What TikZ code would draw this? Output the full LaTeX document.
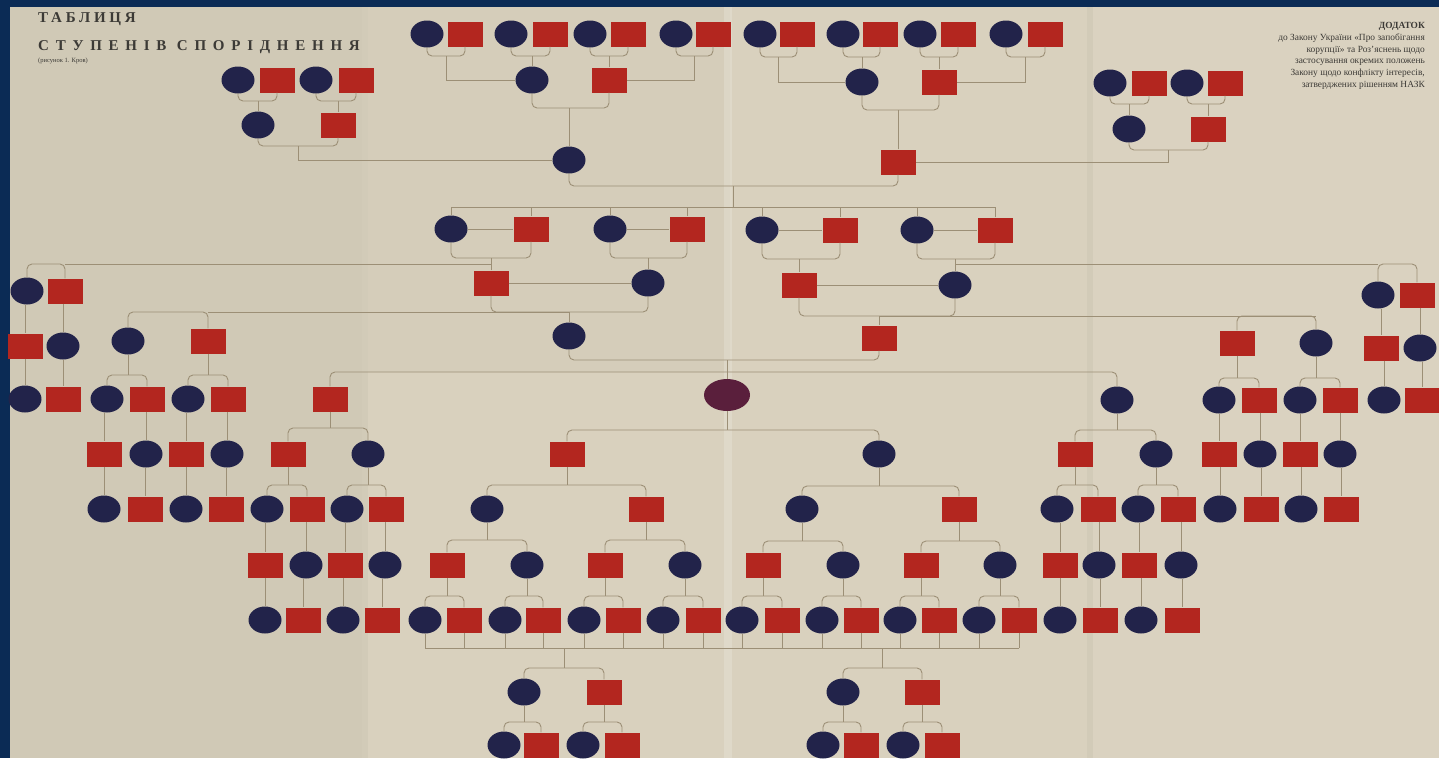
\documentclass[tikz,border=0pt]{standalone}
\usepackage{fontspec}
\setmainfont{Liberation Serif}
\usetikzlibrary{shapes.geometric,calc}
\definecolor{navy}{HTML}{22234A}
\definecolor{rd}{HTML}{B3261F}
\definecolor{egoc}{HTML}{5A1F3C}
\definecolor{paper}{HTML}{D9D1BE}
\definecolor{lnc}{HTML}{9C8F76}
\definecolor{frame}{HTML}{0B2B55}
\definecolor{ink}{HTML}{3C3A36}
\tikzset{
  cn/.style={ellipse,fill=navy,minimum width=33pt,minimum height=27pt,inner sep=0pt},
  sq/.style={rectangle,fill=rd,minimum width=35pt,minimum height=25pt,inner sep=0pt},
  egonode/.style={ellipse,fill=egoc,minimum width=46pt,minimum height=32pt,inner sep=0pt},
  ln/.style={draw=lnc,line width=0.9pt},
  txt/.style={text=ink,inner sep=0pt}
}
\newcommand\nc[3]{\node[cn] (#1) at (#2,-#3) {};}
\newcommand\ns[3]{\node[sq] (#1) at (#2,-#3) {};}
\newcommand\pbar[3]{\draw[ln,rounded corners=5pt] (#1.south) -- (#1.south |- 0,#3) -- (#2.south |- 0,#3) -- (#2.south);}
\newcommand\kup[4]{\pbar{#1}{#2}{#4}\draw[ln] (#3.north) -- (#3.north |- 0,#4);}
\newcommand\kdn[4]{\draw[ln] (#1.south) -- (#1.south |- 0,#4);\draw[ln,rounded corners=5pt] (#2.north) -- (#2.north |- 0,#4) -- (#3.north |- 0,#4) -- (#3.north);}
\newcommand\nbar[3]{\draw[ln,rounded corners=5pt] (#1.north) -- (#1.north |- 0,#3) -- (#2.north |- 0,#3) -- (#2.north);}
\newcommand\kch[2]{\draw[ln] (#2.north |- #1.south) -- (#2.north);}
\begin{document}
\begin{tikzpicture}[x=1pt,y=1pt]
\useasboundingbox (0,0) rectangle (1439,-758);
% paper and frame
\fill[paper] (0,0) rectangle (1439,-758);
\fill[paper!96!black] (10,0) rectangle (365,-758);
\fill[paper!98!black] (365,0) rectangle (730,-372);
\fill[paper!97!white] (1090,0) rectangle (1439,-758);
\fill[paper!97!black] (362,0) rectangle (368,-758);
\fill[paper!97!black] (1087,0) rectangle (1093,-758);
\fill[white,opacity=0.18] (724,0) rectangle (732,-758);
\fill[frame] (0,0) rectangle (10,-758);
\fill[frame] (0,0) rectangle (1439,-7);
% title texts
\node[txt,anchor=north west,font=\bfseries\fontsize{15}{15}\selectfont\addfontfeatures{LetterSpace=25}] (ttl1) at (38,-12) {ТАБЛИЦЯ};
\node[txt,anchor=north west,font=\bfseries\fontsize{15}{15}\selectfont\addfontfeatures{LetterSpace=45}] (ttl2) at (38,-40) {СТУПЕНІВ СПОРІДНЕННЯ};
\node[txt,anchor=north west,font=\fontsize{6.5}{6.5}\selectfont] (ttl3) at (38,-58) {(рисунок 1. Кров)};
\node[txt,anchor=north east,align=right,font=\fontsize{9.4}{11.8}\selectfont] (note) at (1425,-22)
 {\textbf{ДОДАТОК}\\до Закону України «Про запобігання\\корупції» та Роз’яснень щодо\\застосування окремих положень\\Закону щодо конфлікту інтересів,\\затверджених рішенням НАЗК};
% ---------- nodes ----------
\nc{a1}{427}{34}\ns{a2}{465}{34}\nc{a3}{511}{34}\ns{a4}{550}{34}
\nc{a5}{590}{34}\ns{a6}{628}{34}\nc{a7}{676}{34}\ns{a8}{713}{34}
\nc{a9}{760}{34}\ns{a10}{797}{34}\nc{a11}{843}{34}\ns{a12}{880}{34}
\nc{a13}{920}{34}\ns{a14}{958}{34}\nc{a15}{1006}{34}\ns{a16}{1045}{34}
\nc{b1}{532}{80}\ns{b2}{609}{80}\nc{b3}{862}{82}\ns{b4}{939}{82}
\nc{t1}{238}{80}\ns{t2}{277}{80}\nc{t3}{316}{80}\ns{t4}{356}{80}
\nc{u1}{258}{125}\ns{u2}{338}{125}
\nc{t5}{1110}{83}\ns{t6}{1149}{83}\nc{t7}{1187}{83}\ns{t8}{1225}{83}
\nc{u3}{1129}{129}\ns{u4}{1208}{129}
\nc{d1}{569}{160}\ns{d2}{898}{162}
\nc{e1}{451}{229}\ns{e2}{531}{229}\nc{e3}{610}{229}\ns{e4}{687}{229}
\nc{e5}{762}{230}\ns{e6}{840}{230}\nc{e7}{917}{230}\ns{e8}{995}{230}
\ns{f1}{491}{283}\nc{f2}{648}{283}\ns{f3}{799}{285}\nc{f4}{955}{285}
\nc{l1}{27}{291}\ns{l2}{65}{291}\nc{r1}{1378}{295}\ns{r2}{1417}{295}
\nc{g1}{569}{336}\ns{g2}{879}{338}
\nc{h1}{128}{341}\ns{h2}{208}{341}\ns{h3}{1237}{343}\nc{h4}{1316}{343}
\ns{m1}{25}{346}\nc{m2}{63}{346}\ns{m3}{1381}{348}\nc{m4}{1420}{348}
\nc{n1}{25}{399}\ns{n2}{63}{399}\nc{n3}{1384}{400}\ns{n4}{1422}{400}
\nc{i1}{107}{399}\ns{i2}{147}{399}\nc{i3}{188}{399}\ns{i4}{228}{399}
\nc{i5}{1219}{400}\ns{i6}{1259}{400}\nc{i7}{1300}{400}\ns{i8}{1340}{400}
\ns{s1}{330}{399}\nc{s2}{1117}{400}
\node[egonode] (ego) at (727,-395) {};
\ns{j1}{104}{454}\nc{j2}{146}{454}\ns{j3}{186}{454}\nc{j4}{227}{454}
\ns{p1}{288}{454}\nc{p2}{368}{454}\ns{q1}{567}{454}\nc{q2}{879}{454}
\ns{p3}{1075}{454}\nc{p4}{1156}{454}
\ns{j5}{1219}{454}\nc{j6}{1260}{454}\ns{j7}{1300}{454}\nc{j8}{1340}{454}
\nc{o1}{104}{509}\ns{o2}{145}{509}\nc{o3}{186}{509}\ns{o4}{226}{509}
\nc{v1}{267}{509}\ns{v2}{307}{509}\nc{v3}{347}{509}\ns{v4}{386}{509}
\nc{w1}{487}{509}\ns{w2}{646}{509}\nc{w3}{802}{509}\ns{w4}{959}{509}
\nc{v5}{1057}{509}\ns{v6}{1098}{509}\nc{v7}{1138}{509}\ns{v8}{1178}{509}
\nc{o5}{1220}{509}\ns{o6}{1261}{509}\nc{o7}{1301}{509}\ns{o8}{1341}{509}
\ns{x1}{265}{565}\nc{x2}{306}{565}\ns{x3}{345}{565}\nc{x4}{385}{565}
\ns{y1}{447}{565}\nc{y2}{527}{565}\ns{y3}{605}{565}\nc{y4}{685}{565}
\ns{y5}{763}{565}\nc{y6}{843}{565}\ns{y7}{921}{565}\nc{y8}{1000}{565}
\ns{x5}{1060}{565}\nc{x6}{1099}{565}\ns{x7}{1139}{565}\nc{x8}{1181}{565}
\nc{z1}{265}{620}\ns{z2}{303}{620}\nc{z3}{343}{620}\ns{z4}{382}{620}
\nc{zz1}{425}{620}\ns{zz2}{464}{620}\nc{zz3}{505}{620}\ns{zz4}{543}{620}
\nc{zz5}{584}{620}\ns{zz6}{623}{620}\nc{zz7}{663}{620}\ns{zz8}{703}{620}
\nc{zz9}{742}{620}\ns{zz10}{782}{620}\nc{zz11}{822}{620}\ns{zz12}{861}{620}
\nc{zz13}{900}{620}\ns{zz14}{939}{620}\nc{zz15}{979}{620}\ns{zz16}{1019}{620}
\nc{z5}{1060}{620}\ns{z6}{1100}{620}\nc{z7}{1141}{620}\ns{z8}{1182}{620}
\nc{g3}{524}{692}\ns{g4}{604}{692}\nc{g5}{843}{692}\ns{g6}{922}{692}
\nc{c1}{504}{745}\ns{c2}{541}{745}\nc{c3}{583}{745}\ns{c4}{622}{745}
\nc{c5}{823}{745}\ns{c6}{861}{745}\nc{c7}{903}{745}\ns{c8}{942}{745}
% ---------- connectors ----------
% top generations
\kup{a3}{a4}{b1}{-56}\kup{a5}{a6}{b2}{-56}\kup{a11}{a12}{b3}{-57}\kup{a13}{a14}{b4}{-57}
\pbar{a1}{a2}{-56}\pbar{a7}{a8}{-56}\pbar{a9}{a10}{-57}\pbar{a15}{a16}{-57}
\coordinate (k1) at (446,-56);\coordinate (k2) at (694.5,-56);
\coordinate (k3) at (778.5,-57);\coordinate (k4) at (1025.5,-57);
\draw[ln] (k1) |- (b1.west);\draw[ln] (k2) |- (b2.east);
\draw[ln] (k3) |- (b3.west);\draw[ln] (k4) |- (b4.east);
\kup{t1}{t2}{u1}{-101}\kup{t3}{t4}{u2}{-101}
\kup{t5}{t6}{u3}{-104}\kup{t7}{t8}{u4}{-104}
\pbar{u1}{u2}{-146}\pbar{u3}{u4}{-150}
\coordinate (k5) at (298,-146);\coordinate (k6) at (1168.5,-150);
\draw[ln] (k5) |- (d1.west);\draw[ln] (k6) |- (d2.east);
\kup{b1}{b2}{d1}{-108}\kup{b3}{b4}{d2}{-110}
\pbar{d1}{d2}{-186}
\coordinate (k7) at (733,-186);
\draw[ln] (k7) -- (k7 |- 0,-207);
\draw[ln] (e1.north |- 0,-207) -- (e8.north |- 0,-207);
\foreach \n in {e1,e2,e3,e4,e5,e6,e7,e8} {\draw[ln] (\n.north) -- (\n.north |- 0,-207);}
\draw[ln] (e1) -- (e2);\draw[ln] (e3) -- (e4);\draw[ln] (e5) -- (e6);\draw[ln] (e7) -- (e8);
\kup{e1}{e2}{f1}{-258}\kup{e3}{e4}{f2}{-258}\kup{e5}{e6}{f3}{-259}\kup{e7}{e8}{f4}{-259}
\draw[ln] (f1) -- (f2);\draw[ln] (f3) -- (f4);
% grandparents' siblings
\draw[ln] (f1.north |- 0,-264) -- (l2.north |- 0,-264);\nbar{l1}{l2}{-264}
\draw[ln] (f4.north |- 0,-264) -- (r1.north |- 0,-264);\nbar{r1}{r2}{-264}
\kch{l1}{m1}\kch{l2}{m2}\kch{m1}{n1}\kch{m2}{n2}
\kch{r1}{m3}\kch{r2}{m4}\kch{m3}{n3}\kch{m4}{n4}
% parents
\kup{f1}{f2}{g1}{-312}\kup{f3}{f4}{g2}{-316}
\draw[ln] (g1.north |- 0,-312) -- (h2.north |- 0,-312);\nbar{h1}{h2}{-312}
\draw[ln] (g2.north |- 0,-316) -- (h4.north |- 0,-316);\nbar{h3}{h4}{-316}
\kdn{h1}{i1}{i2}{-375}\kdn{h2}{i3}{i4}{-375}\kdn{h3}{i5}{i6}{-378}\kdn{h4}{i7}{i8}{-378}
\kch{i1}{j1}\kch{i2}{j2}\kch{i3}{j3}\kch{i4}{j4}
\kch{j1}{o1}\kch{j2}{o2}\kch{j3}{o3}\kch{j4}{o4}
\kch{i5}{j5}\kch{i6}{j6}\kch{i7}{j7}\kch{i8}{j8}
\kch{j5}{o5}\kch{j6}{o6}\kch{j7}{o7}\kch{j8}{o8}
% ego and siblings
\pbar{g1}{g2}{-360}
\draw[ln] (ego.north) -- (ego.north |- 0,-360);
\nbar{s1}{s2}{-372}
\kdn{s1}{p1}{p2}{-428}\kdn{s2}{p3}{p4}{-430}
\kdn{p1}{v1}{v2}{-485}\kdn{p2}{v3}{v4}{-485}\kdn{p3}{v5}{v6}{-485}\kdn{p4}{v7}{v8}{-485}
\kch{v1}{x1}\kch{v2}{x2}\kch{v3}{x3}\kch{v4}{x4}
\kch{x1}{z1}\kch{x2}{z2}\kch{x3}{z3}\kch{x4}{z4}
\kch{v5}{x5}\kch{v6}{x6}\kch{v7}{x7}\kch{v8}{x8}
\kch{x5}{z5}\kch{x6}{z6}\kch{x7}{z7}\kch{x8}{z8}
% descendants
\kdn{ego}{q1}{q2}{-430}
\kdn{q1}{w1}{w2}{-485}\kdn{q2}{w3}{w4}{-486}
\kdn{w1}{y1}{y2}{-540}\kdn{w2}{y3}{y4}{-540}\kdn{w3}{y5}{y6}{-541}\kdn{w4}{y7}{y8}{-541}
\kdn{y1}{zz1}{zz2}{-596}\kdn{y2}{zz3}{zz4}{-596}\kdn{y3}{zz5}{zz6}{-596}\kdn{y4}{zz7}{zz8}{-596}
\kdn{y5}{zz9}{zz10}{-596}\kdn{y6}{zz11}{zz12}{-596}\kdn{y7}{zz13}{zz14}{-596}\kdn{y8}{zz15}{zz16}{-596}
\draw[ln] (zz1.south |- 0,-648) -- (zz16.south |- 0,-648);
\foreach \n in {zz1,zz2,zz3,zz4,zz5,zz6,zz7,zz8,zz9,zz10,zz11,zz12,zz13,zz14,zz15,zz16} {\draw[ln] (\n.south) -- (\n.south |- 0,-648);}
\coordinate (k13) at (564,-648);\coordinate (k14) at (882,-648);
\draw[ln] (k13) -- (k13 |- 0,-668);\nbar{g3}{g4}{-668}
\draw[ln] (k14) -- (k14 |- 0,-668);\nbar{g5}{g6}{-668}
\kdn{g3}{c1}{c2}{-722}\kdn{g4}{c3}{c4}{-722}\kdn{g5}{c5}{c6}{-722}\kdn{g6}{c7}{c8}{-722}
\end{tikzpicture}
\end{document}
